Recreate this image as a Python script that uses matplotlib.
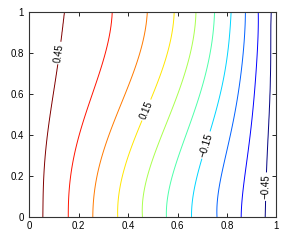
import numpy as np
import matplotlib
matplotlib.use('Agg')
import matplotlib.pyplot as plt

plt.rcParams['font.family'] = ['Liberation Sans', 'DejaVu Sans']

# contour levels, left to right
levels = [0.45, 0.35, 0.25, 0.15, 0.05, -0.05, -0.15, -0.25, -0.35, -0.45]
label_levels = [0.45, 0.15, -0.15, -0.45]
label_text = ['0.45', '0.15', '\u22120.15', '\u22120.45']

# where each level crosses a given row
y_rows = [0.0, 0.1, 0.2, 0.3, 0.4, 0.5, 0.6, 0.7, 0.8, 0.9, 1.0]
crossings = [
    [0.055, 0.158, 0.257, 0.358, 0.458, 0.555, 0.657, 0.760, 0.858, 0.955],
    [0.055, 0.159, 0.262, 0.362, 0.462, 0.561, 0.662, 0.763, 0.862, 0.957],
    [0.060, 0.168, 0.273, 0.375, 0.477, 0.578, 0.680, 0.777, 0.873, 0.960],
    [0.064, 0.182, 0.296, 0.404, 0.506, 0.606, 0.704, 0.796, 0.884, 0.962],
    [0.073, 0.202, 0.323, 0.432, 0.536, 0.634, 0.725, 0.814, 0.894, 0.968],
    [0.084, 0.226, 0.354, 0.465, 0.571, 0.664, 0.752, 0.830, 0.903, 0.970],
    [0.097, 0.257, 0.387, 0.501, 0.599, 0.690, 0.775, 0.846, 0.911, 0.975],
    [0.111, 0.282, 0.421, 0.533, 0.630, 0.715, 0.789, 0.857, 0.918, 0.976],
    [0.120, 0.309, 0.448, 0.560, 0.653, 0.732, 0.803, 0.866, 0.923, 0.977],
    [0.133, 0.326, 0.467, 0.577, 0.667, 0.744, 0.812, 0.872, 0.926, 0.978],
    [0.142, 0.336, 0.478, 0.587, 0.675, 0.750, 0.817, 0.875, 0.927, 0.979],
]
label_pos = [(0.121, 0.80), (0.477, 0.52), (0.718, 0.35), (0.958, 0.148)]

# build the field from the crossings (smooth fit of each line in y)
crossings = np.array(crossings)
xx = np.linspace(0, 1, 500)
yy = np.linspace(0, 1, 400)
fits = [np.polyfit(y_rows, crossings[:, k], 5) for k in range(len(levels))]
Z = np.zeros((len(yy), len(xx)))
for i, y in enumerate(yy):
    xc = [np.polyval(p, y) for p in fits]
    xp = [xc[0] - 0.1] + xc + [xc[-1] + 0.1]
    fp = [levels[0] + 0.1] + levels + [levels[-1] - 0.1]
    Z[i] = np.interp(xx, xp, fp)
X, Y = np.meshgrid(xx, yy)

cmap = plt.get_cmap('jet')
norm = plt.Normalize(min(levels), max(levels))
plain = sorted(l for l in levels if l not in label_levels)
labeled = sorted(label_levels)

fig = plt.figure(figsize=(2.91, 2.42), dpi=100)
ax = fig.add_axes([0.1007, 0.1033, 0.8488, 0.8471])

ax.contour(X, Y, Z, levels=plain, colors=[cmap(norm(l)) for l in plain],
           linewidths=0.7)
cs = ax.contour(X, Y, Z, levels=labeled,
                colors=[cmap(norm(l)) for l in labeled], linewidths=0.7)
ax.clabel(cs, manual=label_pos, fontsize=7, colors='k',
          fmt=dict(zip(label_levels, label_text)),
          inline=True, inline_spacing=2)

ax.set_xlim(0, 1)
ax.set_ylim(0, 1)
ax.set_xticks([0, 0.2, 0.4, 0.6, 0.8, 1])
ax.set_yticks([0, 0.2, 0.4, 0.6, 0.8, 1])
ax.set_xticklabels(['0', '0.2', '0.4', '0.6', '0.8', '1'])
ax.set_yticklabels(['0', '0.2', '0.4', '0.6', '0.8', '1'])
ax.tick_params(direction='in', length=3, width=0.6, top=True, right=True,
               labelsize=7, colors='k')
ax.tick_params(axis='x', pad=3)
ax.tick_params(axis='y', pad=4)
for s in ax.spines.values():
    s.set_linewidth(0.8)
    s.set_color('0.2')

fig.savefig('out.png', dpi=100)
